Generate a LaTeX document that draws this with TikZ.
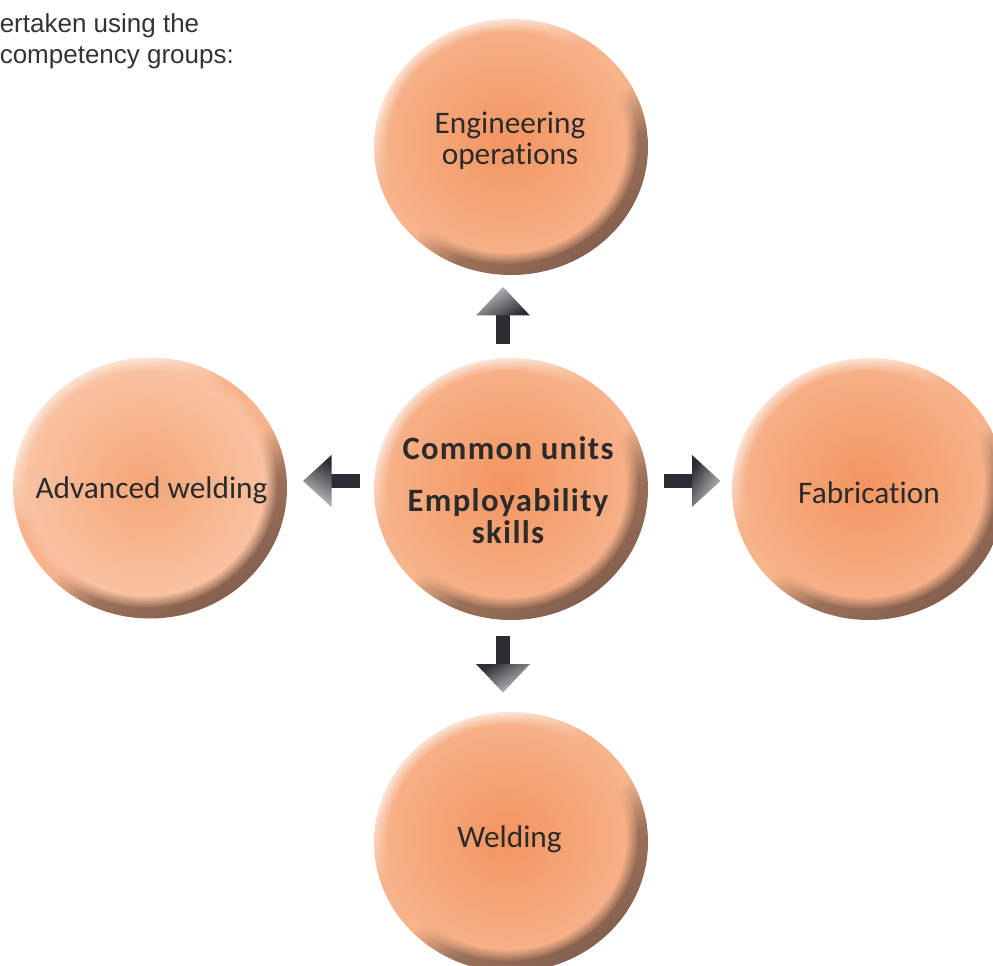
\documentclass[tikz,border=0pt]{standalone}
\usepackage{fontspec}
\setmainfont{Carlito}[Ligatures=NoCommon]
\newfontfamily\arialfont{Liberation Sans}
\usetikzlibrary{calc,fadings}
\definecolor{orC}{HTML}{F39460}
\definecolor{orE}{HTML}{F7B38B}
\definecolor{orCl}{HTML}{F5A678}
\definecolor{orEl}{HTML}{F9C4A4}
\definecolor{rimL}{HTML}{FCE4D6}
\definecolor{rimD}{HTML}{85604D}
\definecolor{txt}{HTML}{2B2B2B}
\definecolor{notecol}{HTML}{333333}
\definecolor{arrD}{HTML}{2A2D31}
\definecolor{arrL}{HTML}{C8CACD}
\pgfdeclareverticalshading{rimshade}{100bp}{color(0bp)=(rimD); color(25bp)=(rimD); color(38bp)=(rimD!80!orE); color(47bp)=(orE); color(58bp)=(orE); color(70bp)=(rimL); color(100bp)=(rimL)}

\newcommand\bubble[5]{% center, rx, ry, inner colour, outer colour
  \shade[shading=rimshade, shading angle=35] (#1) ellipse [x radius={(#2)*0.75pt}, y radius={(#3)*0.75pt}];
  \shade[inner color=#4, outer color=#5, path fading=circle with fuzzy edge 10 percent]
    ($(#1)+(-4,-5)$) ellipse [x radius={(#2-6)*0.75pt}, y radius={(#3-6)*0.75pt}];
}
\newcommand\arrowRight[1]{%
  \begin{scope}[shift={(#1)}]
    \fill[arrD] (-28.5,-7) rectangle (0.5,7);
    \shade[top color=arrL, bottom color=arrD, shading angle=-120] (0,-26) -- (28.5,0) -- (0,26) -- cycle;
  \end{scope}}
\newcommand\arrowLeft[1]{%
  \begin{scope}[shift={(#1)}]
    \fill[arrD] (28.5,-7) rectangle (-0.5,7);
    \shade[top color=arrL, bottom color=arrD, shading angle=150] (0,-26) -- (-28.5,0) -- (0,26) -- cycle;
  \end{scope}}
\newcommand\arrowUp[1]{%
  \begin{scope}[shift={(#1)}]
    \fill[arrD] (-7,-0.5) rectangle (7,28.5);
    \shade[top color=arrL, bottom color=arrD, shading angle=30] (-27,0) -- (0,-28.5) -- (27,0) -- cycle;
  \end{scope}}
\newcommand\arrowDown[1]{%
  \begin{scope}[shift={(#1)}]
    \fill[arrD] (-7,0.5) rectangle (7,-28.5);
    \shade[top color=arrL, bottom color=arrD, shading angle=-150] (-27,0) -- (0,28.5) -- (27,0) -- cycle;
  \end{scope}}

\begin{document}
\begin{tikzpicture}[x=0.75pt,y=-0.75pt,
  bubbletext/.style={text=txt, font=\fontsize{23.5pt}{23.3pt}\selectfont, align=center, inner sep=0pt},
  centertext/.style={text=txt, font=\fontsize{24.5pt}{24pt}\selectfont\bfseries\addfontfeatures{LetterSpace=4}, align=center, inner sep=0pt},
  notetext/.style={text=notecol, font=\arialfont\fontsize{19.5pt}{23.25pt}\selectfont, align=left, inner sep=0pt}]
\useasboundingbox (0,0) rectangle (993,966);
\clip (0,0) rectangle (993,966);

\coordinate (ceng) at (511,147);
\coordinate (cctr) at (511,489);
\coordinate (cadv) at (150,488);
\coordinate (cfab) at (869,489);
\coordinate (cweld) at (511,842);

\bubble{ceng}{137}{128}{orC}{orE}
\bubble{cctr}{137}{131}{orC}{orE}
\bubble{cadv}{137}{130.5}{orCl}{orEl}
\bubble{cfab}{137}{131}{orC}{orE}
\bubble{cweld}{137}{130}{orC}{orE}

\node[bubbletext] (eng) at (510,141) {Engineering\\operations};
\node[centertext] (ctr) at (508,490) {Common units\\[15pt]Employability\\skills};
\node[bubbletext, anchor=base] (fab) at (869,503) {Fabrication};
\node[bubbletext, anchor=base] (adv) at (151.5,498) {Advanced welding};
\node[bubbletext, anchor=base] (weld) at (509.5,847) {Welding};
\node[notetext, anchor=north west] (note) at (-0.5,13.3) {ertaken using the\\competency groups:};

\coordinate (aup) at (503,315.5);
\coordinate (adown) at (503,664);
\coordinate (aleft) at (331.5,481);
\coordinate (aright) at (692,481);
\arrowUp{aup}
\arrowDown{adown}
\arrowLeft{aleft}
\arrowRight{aright}
\end{tikzpicture}
\end{document}
